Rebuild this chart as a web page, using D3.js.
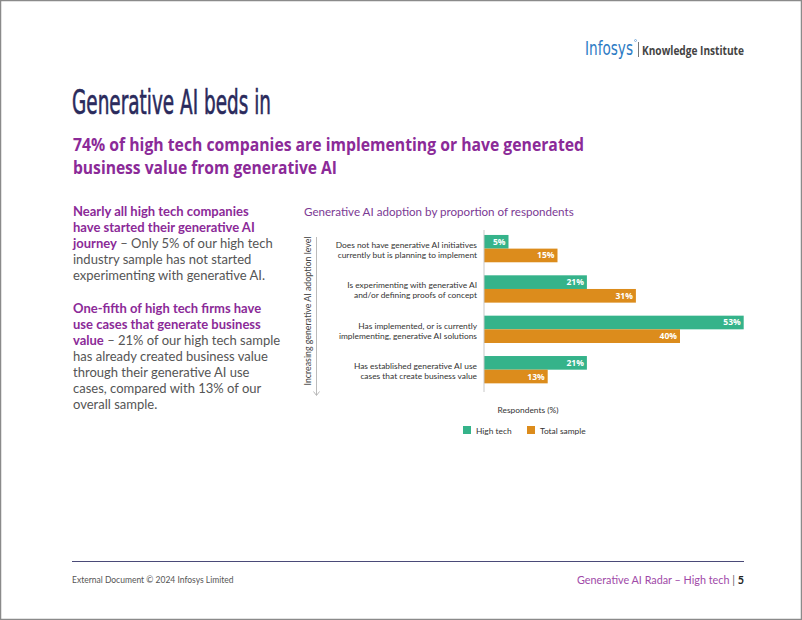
<!DOCTYPE html>
<html><head><meta charset="utf-8">
<script src="https://cdn.jsdelivr.net/npm/d3@7"></script>
<style>
html,body{margin:0;padding:0;background:#fff;}
svg text{font-family:Lato,"Open Sans",sans-serif;}
</style></head>
<body>
<svg id="c" width="802" height="620"></svg>
<script>
const categories = [
  ["Does not have generative AI initiatives","currently but is planning to implement"],
  ["Is experimenting with generative AI","and/or defining proofs of concept"],
  ["Has implemented, or is currently","implementing, generative AI solutions"],
  ["Has established generative AI use","cases that create business value"]
];
const seriesNames = ["High tech","Total sample"];
const highTech = [5,21,53,21];
const totalSample = [15,31,40,13];
const colors = ["#35b38a","#dc8c1c"];

const svg = d3.select("#c");
svg.append("rect").attr("x",0.5).attr("y",0.5).attr("width",801).attr("height",619)
  .attr("fill","#fff").attr("stroke","#8a8a8a").attr("stroke-width",1.5);

// Logo
svg.append("text").attr("x",585).attr("y",55).attr("font-size",20)
  .attr("fill","#2c7bc4").style("font-family","'Liberation Sans Narrow','DejaVu Sans Condensed',sans-serif")
  .attr("textLength",48).attr("lengthAdjust","spacingAndGlyphs").text("Infosys");
svg.append("circle").attr("cx",635.5).attr("cy",40.5).attr("r",1).attr("fill","none").attr("stroke","#2c7bc4").attr("stroke-width",0.5);
svg.append("line").attr("x1",638.5).attr("x2",638.5).attr("y1",42).attr("y2",57).attr("stroke","#555").attr("stroke-width",0.8);
svg.append("text").attr("x",642).attr("y",55).attr("font-size",11.5).attr("font-weight",700)
  .attr("fill","#444").style("font-family","'Open Sans',sans-serif").attr("textLength",102).attr("lengthAdjust","spacingAndGlyphs").text("Knowledge Institute");

// Title
svg.append("text").attr("x",72).attr("y",114).attr("font-size",34)
  .attr("fill","#2a2a5c").attr("stroke","#2a2a5c").attr("stroke-width",0.6)
  .style("font-family","'Liberation Sans Narrow','DejaVu Sans Condensed',sans-serif")
  .attr("textLength",199).attr("lengthAdjust","spacingAndGlyphs").text("Generative AI beds in");

// Subtitle
const sub = ["74% of high tech companies are implementing or have generated","business value from generative AI"];
svg.append("g").selectAll("text").data(sub).join("text")
  .attr("x",73).attr("y",(d,i)=>151+i*23).attr("font-size",17).attr("font-weight",700)
  .attr("fill","#8b2a98").style("font-family","'Open Sans',sans-serif")
  .attr("textLength",(d,i)=>i===0?511:264).attr("lengthAdjust","spacingAndGlyphs")
  .text(d=>d);

// Left body text
const para = [
  [["Nearly all high tech companies",1]],
  [["have started their generative AI",1]],
  [["journey",1],[" – Only 5% of our high tech",0]],
  [["industry sample has not started",0]],
  [["experimenting with generative AI.",0]],
  null,
  [["One-fifth of high tech firms have",1]],
  [["use cases that generate business",1]],
  [["value",1],[" – 21% of our high tech sample",0]],
  [["has already created business value",0]],
  [["through their generative AI use",0]],
  [["cases, compared with 13% of our",0]],
  [["overall sample.",0]]
];
const lineY = [216,232,248,264,280,null,313,329,345,361,377,393,409];
para.forEach((ln,i)=>{
  if(!ln) return;
  const t = svg.append("text").attr("x",73).attr("y",lineY[i]).attr("font-size",13)
    .style("font-family","Lato,sans-serif");
  ln.forEach(([s,b])=>{
    t.append("tspan").attr("font-weight",b?700:400).attr("fill",b?"#8b2a98":"#555").text(s);
  });
});

// Chart title
svg.append("text").attr("x",304).attr("y",216).attr("font-size",11.6)
  .attr("fill","#7b3a94").style("font-family","Lato,sans-serif").text("Generative AI adoption by proportion of respondents");

// Scales
const x = d3.scaleLinear().domain([0,60]).range([484,778]);
const y = d3.scaleBand().domain(d3.range(categories.length)).range([228.5,389.8]).paddingInner(0.323).paddingOuter(0.16);
const ys = d3.scaleBand().domain(seriesNames).range([0,y.bandwidth()]);
const data = categories.map((c,i)=>({i, vals:[highTech[i],totalSample[i]]}));

const g = svg.append("g");
const grp = g.selectAll("g.grp").data(data).join("g").attr("transform",d=>`translate(0,${y(d.i)})`);
grp.selectAll("rect").data(d=>d.vals.map((v,k)=>({v,k}))).join("rect")
  .attr("x",x(0)).attr("y",d=>ys(seriesNames[d.k])).attr("height",ys.bandwidth())
  .attr("width",d=>x(d.v)-x(0)).attr("fill",d=>colors[d.k]);
grp.selectAll("text.val").data(d=>d.vals.map((v,k)=>({v,k}))).join("text").attr("class","val")
  .attr("x",d=>x(d.v)-3).attr("y",d=>ys(seriesNames[d.k])+ys.bandwidth()/2+3)
  .attr("text-anchor","end").attr("font-size",8.5).attr("font-weight",700).attr("fill","#fff")
  .style("font-family","'Open Sans',sans-serif").text(d=>d.v+"%");

// Category labels
grp.each(function(d){
  const c = y.bandwidth()/2;
  d3.select(this).selectAll("text.lab").data(categories[d.i]).join("text").attr("class","lab")
    .attr("x",477).attr("y",(s,j)=>c-0.5+j*10).attr("text-anchor","end")
    .attr("font-size",8.4).attr("fill","#333").style("font-family","Lato,sans-serif").text(s=>s);
});

// Axis line
svg.append("line").attr("x1",x(0)).attr("x2",x(0)).attr("y1",230).attr("y2",392).attr("stroke","#c8c8c8").attr("stroke-width",1);

// Y label with arrow
svg.append("text").attr("transform","translate(311,311) rotate(-90)").attr("text-anchor","middle")
  .attr("font-size",8.8).attr("fill","#444").style("font-family","Lato,sans-serif").text("Increasing generative AI adoption level");
svg.append("line").attr("x1",316.5).attr("x2",316.5).attr("y1",237).attr("y2",395).attr("stroke","#aaa").attr("stroke-width",0.8);
svg.append("path").attr("d","M313.5,391.5 L316.5,395.5 L319.5,391.5").attr("fill","none").attr("stroke","#aaa").attr("stroke-width",0.8);

// X axis title
svg.append("text").attr("x",528).attr("y",413).attr("text-anchor","middle").attr("font-size",8.4)
  .attr("fill","#333").style("font-family","Lato,sans-serif").text("Respondents (%)");

// Legend
const legX = [463,527];
const leg = svg.append("g").selectAll("g").data(seriesNames).join("g").attr("transform",(d,i)=>`translate(${legX[i]},426)`);
leg.append("rect").attr("width",8).attr("height",8).attr("fill",(d,i)=>colors[i]);
leg.append("text").attr("x",13).attr("y",7.5).attr("font-size",8.4).attr("fill","#333")
  .style("font-family","Lato,sans-serif").text(d=>d);

// Footer
svg.append("line").attr("x1",72).attr("x2",744).attr("y1",561.5).attr("y2",561.5).attr("stroke","#4a4a78").attr("stroke-width",1);
svg.append("text").attr("x",72).attr("y",583).attr("font-size",8.5).attr("fill","#555")
  .style("font-family","Lato,sans-serif").text("External Document © 2024 Infosys Limited");
const ft = svg.append("text").attr("x",744).attr("y",584).attr("text-anchor","end").attr("font-size",10.8)
  .style("font-family","Lato,sans-serif");
ft.append("tspan").attr("fill","#a04aa8").text("Generative AI Radar – High tech");
ft.append("tspan").attr("fill","#666").text("  |  ");
ft.append("tspan").attr("fill","#222").attr("font-weight",700).text("5");
</script>
</body></html>
